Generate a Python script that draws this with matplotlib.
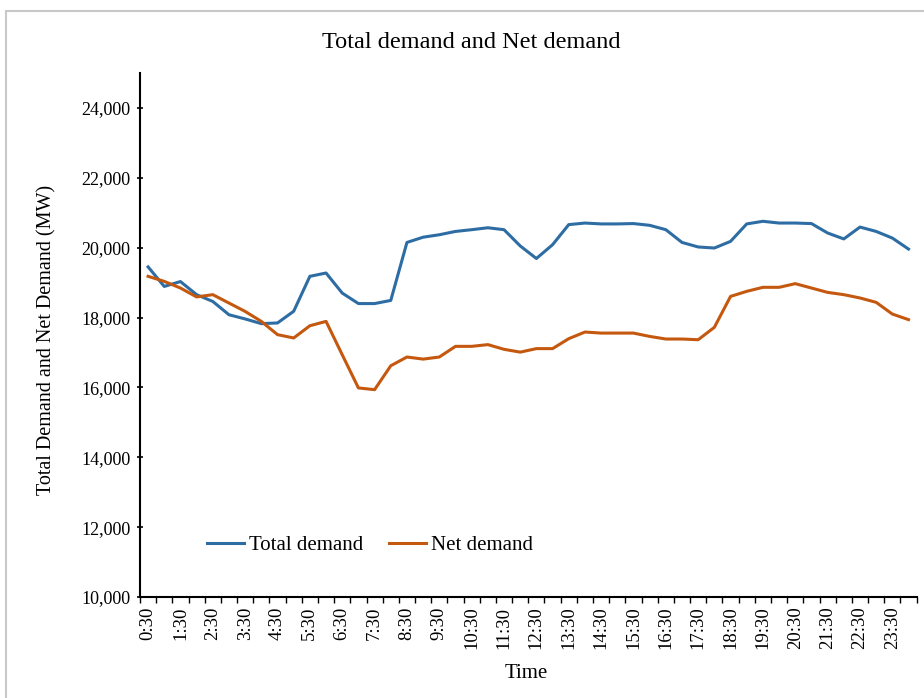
#!/usr/bin/env python3
"""
Total demand vs net demand over the day (half-hourly).
"""

import numpy as np
import matplotlib
matplotlib.use("Agg")
import matplotlib.pyplot as plt
from matplotlib.patches import Rectangle

times = ["%d:%02d" % divmod(m, 60) for m in range(30, 24 * 60 + 1, 30)]

total_demand = [19450, 18890, 19030, 18655, 18460, 18080, 17960, 17825,
                17845, 18180, 19180, 19275, 18700, 18400, 18400, 18490,
                20150, 20300, 20370, 20465, 20515, 20570, 20515, 20050,
                19690, 20085, 20660, 20705, 20680, 20680, 20690, 20640,
                20515, 20150, 20020, 19990, 20180, 20680, 20755, 20705,
                20705, 20690, 20420, 20250, 20590, 20465, 20275, 19960]

net_demand = [19180, 19035, 18845, 18590, 18655, 18415, 18175, 17890,
              17510, 17415, 17765, 17890, 16935, 15985, 15935, 16620,
              16870, 16810, 16870, 17175, 17175, 17225, 17090, 17010,
              17110, 17110, 17395, 17585, 17555, 17555, 17555, 17460,
              17385, 17385, 17365, 17720, 18605, 18750, 18865, 18865,
              18970, 18845, 18720, 18655, 18560, 18435, 18100, 17940]

y_ticks = list(range(10000, 24001, 2000))

plt.rcParams["font.family"] = ["Liberation Serif", "DejaVu Serif"]

fig = plt.figure(figsize=(9.24, 6.98), dpi=100)
ax = fig.add_axes([0.1515, 0.1447, 0.8405, 0.7507])

# light frame round the chart area
fig.add_artist(Rectangle((0.006, -0.02), 1.2, 1.004, transform=fig.transFigure,
                         fill=False, edgecolor="#c8c8c8", linewidth=1.5))

x = np.arange(len(times))
ax.plot(x, total_demand, color="#2E6DA4", linewidth=2.2, label="Total demand")
ax.plot(x, net_demand, color="#C5580F", linewidth=2.2, label="Net demand")

ax.set_xlim(-0.5, len(times) - 0.5)
ax.set_ylim(10000, 25000)
ax.set_yticks(y_ticks)
ax.set_yticklabels([f"{v:,}" for v in y_ticks], fontsize=13)

ax.set_xticks(x[::2])
ax.set_xticklabels(times[::2], rotation=90, fontsize=13.5)
ax.set_xticks(np.arange(-0.5, len(times)), minor=True)
ax.tick_params(axis="x", which="major", length=0, pad=7)
ax.tick_params(axis="x", which="minor", length=4, width=1, direction="out")
ax.tick_params(axis="y", length=4, width=1.2, direction="inout", pad=5)

for side in ["top", "right"]:
    ax.spines[side].set_visible(False)
ax.spines["left"].set_linewidth(1.5)
ax.spines["bottom"].set_linewidth(1.5)

fig.text(0.51, 1 - 42 / 698, "Total demand and Net demand", fontsize=17.5,
         ha="center", va="center")
ax.set_ylabel("Total Demand and Net Demand (MW)", fontsize=14.5)
ax.yaxis.set_label_coords(-0.107, 0.49)
ax.set_xlabel("Time", fontsize=15)
ax.xaxis.set_label_coords(0.498, -0.128)

ax.legend(loc="center left", bbox_to_anchor=(0.086, 0.098), ncol=2, frameon=False,
          fontsize=15, handlelength=1.8, handletextpad=0.25, columnspacing=1.2,
          borderpad=0, borderaxespad=0)

plt.savefig("out.png", dpi=100)
plt.close()
